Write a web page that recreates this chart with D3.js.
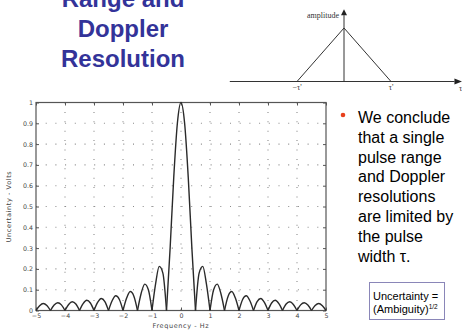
<!DOCTYPE html>
<html>
<head>
<meta charset="utf-8">
<script src="https://cdn.jsdelivr.net/npm/d3@7"></script>
<style>
  body { margin: 0; background: #fff; }
  svg { display: block; }
</style>
</head>
<body>
<svg id="chart" width="462" height="333"></svg>
<script>
// frequency samples (Hz) and read-off uncertainty values
var freqs = d3.range(-40, 41).map(function (k) { return k / 8; });
var halfValues = [1, 0.90, 0.64, 0.30, 0,
    0.18, 0.212, 0.129, 0,
    0.100, 0.127, 0.082, 0,
    0.069, 0.091, 0.060, 0,
    0.053, 0.071, 0.047, 0,
    0.043, 0.058, 0.039, 0,
    0.036, 0.049, 0.033, 0,
    0.031, 0.042, 0.029, 0,
    0.027, 0.037, 0.026, 0,
    0.024, 0.034, 0.023, 0];
var values = halfValues.slice(1).reverse().concat(halfValues);

var xTicks = [-5, -4, -3, -2, -1, 0, 1, 2, 3, 4, 5];
var yTicks = [0, 0.1, 0.2, 0.3, 0.4, 0.5, 0.6, 0.7, 0.8, 0.9, 1];

var titleLines = ["Range and", "Doppler", "Resolution"];
var bulletLines = ["We conclude", "that a single", "pulse range", "and Doppler",
    "resolutions", "are limited by", "the pulse", "width \u03c4."];

// triangle (ambiguity in time) sketch
var triPoints = [[-1, 0], [0, 1], [1, 0]];
var triTicks = [{ t: -1, label: "\u2212\u03c4'" }, { t: 1, label: "\u03c4'" }];

var svg = d3.select("#chart");

/* ---------- title ---------- */
svg.append("g").selectAll("text")
    .data(titleLines)
    .enter().append("text")
    .attr("x", 123)
    .attr("y", function (d, i) { return 7 + i * 30; })
    .attr("text-anchor", "middle")
    .style("font-family", "Liberation Sans, Arial, sans-serif")
    .style("font-weight", "bold")
    .style("font-size", "24px")
    .style("fill", "#333399")
    .text(function (d) { return d; });

/* ---------- main plot ---------- */
var pLeft = 36, pRight = 326, pTop = 102.5, pBottom = 310.5;
var x = d3.scaleLinear().domain([-5, 5]).range([pLeft, pRight]);
var y = d3.scaleLinear().domain([0, 1]).range([pBottom, pTop]);

var plot = svg.append("g");

// dotted grid
plot.append("g").selectAll("line")
    .data(xTicks.slice(1, -1))
    .enter().append("line")
    .attr("x1", function (d) { return x(d); })
    .attr("x2", function (d) { return x(d); })
    .attr("y1", y(1)).attr("y2", y(0))
    .attr("stroke", "#8a8a8a")
    .attr("stroke-width", 1.1)
    .attr("stroke-dasharray", "1,8.4");

plot.append("g").selectAll("line")
    .data(yTicks.slice(1, -1))
    .enter().append("line")
    .attr("x1", x(-5)).attr("x2", x(5))
    .attr("y1", function (d) { return y(d); })
    .attr("y2", function (d) { return y(d); })
    .attr("stroke", "#8a8a8a")
    .attr("stroke-width", 1.1)
    .attr("stroke-dasharray", "1,8.7");

// axes
function styleAxis(g) {
    g.select(".domain").remove();
    g.selectAll(".tick line").attr("stroke", "#555");
    g.selectAll(".tick text")
        .style("font-family", "DejaVu Sans, sans-serif")
        .style("font-size", "6.3px")
        .style("fill", "#444");
}

plot.append("g")
    .attr("transform", "translate(0," + pBottom + ")")
    .call(d3.axisBottom(x).tickValues(xTicks).tickSizeInner(-3).tickSizeOuter(0).tickPadding(3))
    .call(styleAxis);
plot.append("g")
    .attr("transform", "translate(0," + pTop + ")")
    .call(d3.axisTop(x).tickValues(xTicks).tickSizeInner(-3).tickSizeOuter(0).tickFormat(""))
    .call(styleAxis);
plot.append("g")
    .attr("transform", "translate(" + pLeft + ",0)")
    .call(d3.axisLeft(y).tickValues(yTicks).tickSizeInner(-3).tickSizeOuter(0).tickPadding(3)
        .tickFormat(function (d) { return d === 0 || d === 1 ? d3.format("d")(d) : d3.format(".1f")(d); }))
    .call(styleAxis);
plot.append("g")
    .attr("transform", "translate(" + pRight + ",0)")
    .call(d3.axisRight(y).tickValues(yTicks).tickSizeInner(-3).tickSizeOuter(0).tickFormat(""))
    .call(styleAxis);

plot.append("rect")
    .attr("x", pLeft).attr("y", pTop)
    .attr("width", pRight - pLeft).attr("height", pBottom - pTop)
    .attr("fill", "none")
    .attr("stroke", "#555")
    .attr("stroke-width", 1.2);

// curve, drawn lobe by lobe so the nulls stay sharp
var pts = freqs.map(function (f, i) { return [f, values[i]]; });
var lobes = [];
var cur = [pts[0]];
for (var i = 1; i < pts.length; i++) {
    cur.push(pts[i]);
    if (pts[i][1] === 0) { lobes.push(cur); cur = [pts[i]]; }
}
var line = d3.line()
    .x(function (d) { return x(d[0]); })
    .y(function (d) { return y(d[1]); })
    .curve(d3.curveMonotoneX);

plot.append("g").selectAll("path")
    .data(lobes)
    .enter().append("path")
    .attr("d", line)
    .attr("fill", "none")
    .attr("stroke", "#2a2a2a")
    .attr("stroke-width", 1.4);

// axis titles
plot.append("text")
    .attr("x", (pLeft + pRight) / 2)
    .attr("y", 328)
    .attr("text-anchor", "middle")
    .style("font-family", "DejaVu Sans, sans-serif")
    .style("font-size", "6.5px")
    .style("letter-spacing", "0.6px")
    .style("fill", "#444")
    .text("Frequency - Hz");

plot.append("text")
    .attr("transform", "translate(11," + ((pTop + pBottom) / 2) + ") rotate(-90)")
    .attr("text-anchor", "middle")
    .style("font-family", "DejaVu Sans, sans-serif")
    .style("font-size", "6.5px")
    .style("letter-spacing", "0.6px")
    .style("fill", "#444")
    .text("Uncertainty - Volts");

/* ---------- triangle sketch ---------- */
var tx = d3.scaleLinear().domain([-1, 1]).range([297, 391]);
var ty = d3.scaleLinear().domain([0, 1]).range([81.5, 28]);
var sketch = svg.append("g").attr("stroke", "#333").attr("fill", "none");

sketch.append("line")
    .attr("x1", tx(-2.43)).attr("x2", tx(2.35))
    .attr("y1", ty(0)).attr("y2", ty(0))
    .attr("stroke-width", 1);
sketch.append("line")
    .attr("x1", tx(0)).attr("x2", tx(0))
    .attr("y1", ty(0)).attr("y2", ty(1.24))
    .attr("stroke-width", 1);
// arrow heads
sketch.append("path")
    .attr("d", d3.line()([[tx(2.35), ty(0) - 3], [tx(2.51), ty(0)], [tx(2.35), ty(0) + 3]]) + "Z")
    .attr("fill", "#222").attr("stroke", "none");
sketch.append("path")
    .attr("d", d3.line()([[tx(0) - 3, ty(1.24)], [tx(0), ty(1.35)], [tx(0) + 3, ty(1.24)]]) + "Z")
    .attr("fill", "#222").attr("stroke", "none");

sketch.append("path")
    .attr("d", d3.line().x(function (d) { return tx(d[0]); }).y(function (d) { return ty(d[1]); })(triPoints))
    .attr("stroke-width", 1);

svg.append("g").selectAll("text")
    .data(triTicks)
    .enter().append("text")
    .attr("x", function (d) { return tx(d.t); })
    .attr("y", 90)
    .attr("text-anchor", "middle")
    .style("font-family", "Liberation Serif, serif")
    .style("font-size", "8px")
    .style("fill", "#333")
    .text(function (d) { return d.label; });

svg.append("text")
    .attr("x", tx(0) - 5).attr("y", 18)
    .attr("text-anchor", "end")
    .style("font-family", "Liberation Serif, serif")
    .style("font-size", "8px")
    .style("fill", "#333")
    .text("amplitude");

svg.append("text")
    .attr("x", tx(2.48)).attr("y", 91)
    .attr("text-anchor", "middle")
    .style("font-family", "Liberation Serif, serif")
    .style("font-size", "8px")
    .style("fill", "#333")
    .text("\u03c4");

/* ---------- bullet text ---------- */
svg.append("circle")
    .attr("cx", 343).attr("cy", 115).attr("r", 2.3)
    .attr("fill", "#e8401c");

svg.append("g").selectAll("text")
    .data(bulletLines)
    .enter().append("text")
    .attr("x", 358)
    .attr("y", function (d, i) { return 123 + i * 19.8; })
    .style("font-family", "Liberation Sans, Arial, sans-serif")
    .style("font-size", "16px")
    .style("fill", "#000")
    .text(function (d) { return d; });

/* ---------- note box ---------- */
svg.append("rect")
    .attr("x", 369.5).attr("y", 282.5)
    .attr("width", 75).attr("height", 37)
    .attr("fill", "#fff")
    .attr("stroke", "#8a86b8")
    .attr("stroke-width", 1);

var note = svg.append("text")
    .style("font-family", "Liberation Sans, Arial, sans-serif")
    .style("font-size", "11px")
    .style("fill", "#000");
note.append("tspan").attr("x", 373).attr("y", 300).text("Uncertainty =");
note.append("tspan").attr("x", 373).attr("y", 313).text("(Ambiguity)");
note.append("tspan").attr("dy", -4).style("font-size", "6.5px").text("1/2");
</script>
</body>
</html>
